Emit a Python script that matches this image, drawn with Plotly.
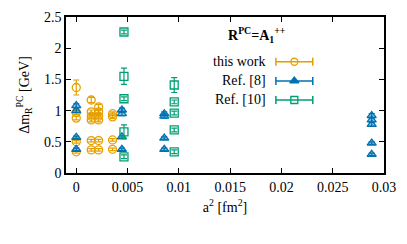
import plotly.graph_objects as go

# ---- data ----
tw_x = [0, 0, 0, 0, 0,
        0.00146, 0.00146, 0.00146, 0.00146, 0.00146, 0.00146,
        0.00218, 0.00218, 0.00218, 0.00218, 0.00218, 0.00218,
        0.00354, 0.00354, 0.00354, 0.00354]
tw_y = [1.37, 0.97, 0.88, 0.50, 0.34,
        1.17, 0.98, 0.91, 0.85, 0.52, 0.37,
        1.06, 0.98, 0.91, 0.85, 0.52, 0.37,
        0.95, 0.90, 0.53, 0.38]
tw_err = [0.12, 0.03, 0.03, 0.02, 0.02,
          0.04, 0.03, 0.03, 0.03, 0.02, 0.02,
          0.04, 0.03, 0.03, 0.03, 0.02, 0.02,
          0.03, 0.03, 0.02, 0.02]

r8_x = [0, 0, 0, 0,
        0.00445, 0.00445, 0.00445, 0.00445,
        0.00858, 0.00858, 0.00858, 0.00858,
        0.0288, 0.0288, 0.0288, 0.0288, 0.0288]
r8_y = [1.08, 1.00, 0.57, 0.38,
        1.01, 0.95, 0.58, 0.38,
        0.95, 0.91, 0.56, 0.38,
        0.92, 0.85, 0.78, 0.48, 0.30]
r8_err = [0.03, 0.03, 0.02, 0.02,
          0.03, 0.03, 0.02, 0.02,
          0.03, 0.03, 0.02, 0.02,
          0.03, 0.03, 0.03, 0.02, 0.02]

r10_x = [0.00465, 0.00465, 0.00465, 0.00465, 0.00465,
         0.00955, 0.00955, 0.00955, 0.00955, 0.00955]
r10_y = [2.26, 1.55, 1.19, 0.66, 0.26,
         1.41, 1.14, 0.96, 0.69, 0.34]
r10_err = [0.03, 0.13, 0.03, 0.11, 0.03,
           0.12, 0.03, 0.03, 0.03, 0.03]

x_ticks = [0, 0.005, 0.01, 0.015, 0.02, 0.025, 0.03]
x_ticklabels = ["0", "0.005", "0.01", "0.015", "0.02", "0.025", "0.03"]
y_ticks = [0, 0.5, 1, 1.5, 2, 2.5]
y_ticklabels = ["0", "0.5", "1", "1.5", "2", "2.5"]

series_names = ["this work", "Ref. [8]", "Ref. [10]"]
colors = ["#E69F00", "#0072B2", "#009E73"]
symbols = ["circle-open", "triangle-up", "square-open"]

FONT = "Liberation Serif"

fig = go.Figure()

data = [(tw_x, tw_y, tw_err), (r8_x, r8_y, r8_err), (r10_x, r10_y, r10_err)]
for (xs, ys, es), name, col, sym in zip(data, series_names, colors, symbols):
    if sym == "triangle-up":
        marker = dict(symbol=sym, size=8, color="rgba(0,114,178,0.45)",
                      line=dict(color=col, width=1.3))
    else:
        marker = dict(symbol=sym, size=8, color=col, line=dict(color=col, width=1.3))
    fig.add_trace(go.Scatter(
        x=xs, y=ys, mode="markers", name=name, showlegend=False,
        marker=marker,
        error_y=dict(type="data", array=es, visible=True, color=col,
                     thickness=1.2, width=3),
        cliponaxis=False,
    ))

# ---- custom legend (gnuplot-style: text right-aligned, sample on right) ----
leg_y = [0.713, 0.590, 0.468]
for name, col, sym, ly in zip(series_names, colors, symbols, leg_y):
    if sym == "triangle-up":
        marker = dict(symbol=sym, size=8, color=col, line=dict(color=col, width=1.3))
    else:
        marker = dict(symbol=sym, size=7, color=col, line=dict(color=col, width=1.3))
    fig.add_trace(go.Scatter(
        x=[0.718], y=[ly], mode="markers", showlegend=False,
        xaxis="x2", yaxis="y2", marker=marker,
        error_x=dict(type="constant", value=0.058, visible=True, color=col,
                     thickness=1.5, width=4),
    ))
    fig.add_annotation(x=0.635, y=ly, xref="paper", yref="paper", text=name,
                       showarrow=False, xanchor="right", yanchor="middle",
                       font=dict(family=FONT, size=14, color="black"))

fig.add_annotation(x=0.60, y=0.885, xref="paper", yref="paper",
                   text="<b>R<sup>PC</sup>=A<sub>1</sub><sup>++</sup></b>",
                   showarrow=False, xanchor="center", yanchor="middle",
                   font=dict(family=FONT, size=14, color="black"))

axis_common = dict(showline=True, linecolor="black", linewidth=1.5, mirror="ticks",
                   ticks="inside", ticklen=5, tickwidth=1.2, tickcolor="black",
                   showgrid=False, zeroline=False, automargin=False,
                   tickfont=dict(family=FONT, size=14, color="black"))

# page body has an 8px default margin, so the figure is shifted by 8px
fig.update_layout(
    width=399, height=236,
    margin=dict(l=58, r=23, t=9, b=71),
    paper_bgcolor="white", plot_bgcolor="white",
    font=dict(family=FONT, size=14, color="black"),
    xaxis=dict(range=[-0.001, 0.03], tickvals=x_ticks, ticktext=x_ticklabels,
               title=dict(text="a<sup>2</sup> [fm<sup>2</sup>]", standoff=9,
                          font=dict(family=FONT, size=14)),
               **axis_common),
    yaxis=dict(range=[0, 2.5], tickvals=y_ticks, ticktext=y_ticklabels,
               title=dict(text="Δm<sub>R</sub><sup>PC</sup> [GeV]", standoff=11,
                          font=dict(family=FONT, size=14)),
               **axis_common),
    xaxis2=dict(range=[0, 1], overlaying="x", visible=False, fixedrange=True),
    yaxis2=dict(range=[0, 1], overlaying="y", visible=False, fixedrange=True),
)

fig.write_html("out.html")
